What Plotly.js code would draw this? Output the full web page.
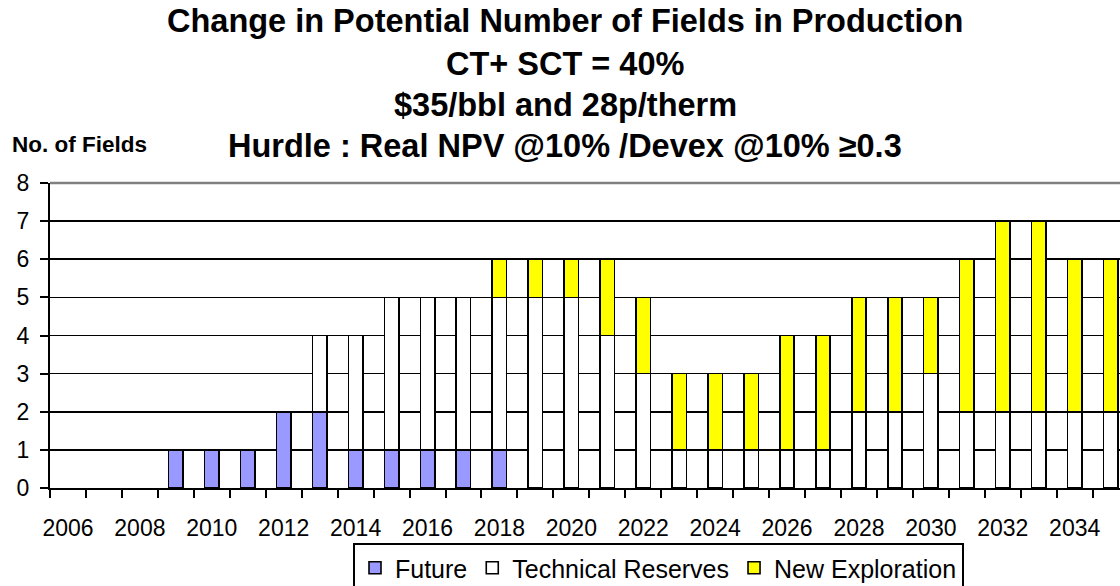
<!DOCTYPE html>
<html>
<head>
<meta charset="utf-8">
<script src="https://cdn.plot.ly/plotly-3.0.1.min.js"></script>
<style>
  html, body { margin: 0; padding: 0; background: #ffffff; }
  #chart { width: 1120px; height: 586px; }
</style>
</head>
<body>
<div id="chart"></div>
<script>
// ---- Data ----
const years = [2006, 2007, 2008, 2009, 2010, 2011, 2012, 2013, 2014, 2015,
               2016, 2017, 2018, 2019, 2020, 2021, 2022, 2023, 2024, 2025,
               2026, 2027, 2028, 2029, 2030, 2031, 2032, 2033, 2034, 2035];
const future = [0, 0, 0, 1, 1, 1, 2, 2, 1, 1,
                1, 1, 1, 0, 0, 0, 0, 0, 0, 0,
                0, 0, 0, 0, 0, 0, 0, 0, 0, 0];
const technicalReserves = [0, 0, 0, 0, 0, 0, 0, 2, 3, 4,
                           4, 4, 4, 5, 5, 4, 3, 1, 1, 1,
                           1, 1, 2, 2, 3, 2, 2, 2, 2, 2];
const newExploration = [0, 0, 0, 0, 0, 0, 0, 0, 0, 0,
                        0, 0, 1, 1, 1, 2, 2, 2, 2, 2,
                        3, 3, 3, 3, 2, 4, 5, 5, 4, 4];
const seriesNames = ['Future', 'Technical Reserves', 'New Exploration'];
const yTicks = [0, 1, 2, 3, 4, 5, 6, 7, 8];

const titleLines = [
  'Change in Potential Number of Fields in Production',
  'CT+ SCT = 40%',
  '$35/bbl and 28p/therm',
  'Hurdle : Real NPV @10% /Devex @10% \u22650.3'
];
const yAxisLabel = 'No. of Fields';

// ---- Build chart ----
const FONT = '"Liberation Sans", Arial, Helvetica, sans-serif';
const cats = years.map(String);
const tickText = years.map(y => (y % 2 === 0 ? String(y) : ''));
const nz = arr => arr.map(v => (v === 0 ? null : v));

const colors = ['#9999FF', '#FFFFFF', '#FFFF00'];
const seriesData = [future, technicalReserves, newExploration];

const traces = seriesData.map((vals, i) => ({
  type: 'bar',
  name: seriesNames[i],
  x: cats,
  y: nz(vals),
  marker: { color: colors[i], line: { color: '#000000', width: 1.6 } },
  hoverinfo: 'x+y+name'
}));

const plotTopPx = 183, plotBottomPx = 488, plotLeftPx = 50;
const plotH = plotBottomPx - plotTopPx, plotW = 1120 - plotLeftPx;
const py = px => (plotBottomPx - px) / plotH;
const pxX = px => (px - plotLeftPx) / plotW;

const titleY = [21, 63.7, 105, 146];
const annotations = titleLines.map((t, i) => ({
  text: '<b>' + t + '</b>',
  xref: 'paper', yref: 'paper',
  x: pxX(565), y: py(titleY[i]),
  xanchor: 'center', yanchor: 'middle',
  showarrow: false,
  font: { family: FONT, size: 32.5, color: '#000000' }
}));
annotations.push({
  text: '<b>' + yAxisLabel + '</b>',
  xref: 'paper', yref: 'paper',
  x: pxX(10), y: py(144),
  xanchor: 'left', yanchor: 'middle',
  showarrow: false,
  font: { family: FONT, size: 22.5, color: '#000000' }
});

const layout = {
  width: 1120, height: 586,
  margin: { l: plotLeftPx, r: 0, t: plotTopPx, b: 586 - plotBottomPx, pad: 0, autoexpand: false },
  paper_bgcolor: '#ffffff',
  plot_bgcolor: '#ffffff',
  barmode: 'stack',
  bargap: 0.6,
  showlegend: true,
  font: { family: FONT, color: '#000000' },
  xaxis: {
    type: 'category',
    range: [-0.5, 29.26],
    tickmode: 'array',
    tickvals: cats,
    ticktext: tickText,
    tickson: 'boundaries',
    ticks: 'outside',
    ticklen: 8,
    tickwidth: 2,
    tickcolor: '#000000',
    showgrid: false,
    showline: true,
    linecolor: '#000000',
    linewidth: 2,
    zeroline: false,
    tickangle: 0,
    ticklabelstandoff: 18,
    tickfont: { family: FONT, size: 23, color: '#000000' },
    automargin: false,
    fixedrange: true
  },
  yaxis: {
    range: [0, 8],
    tickmode: 'array',
    tickvals: yTicks,
    ticktext: yTicks.map(String),
    ticks: 'outside',
    ticklen: 8,
    tickwidth: 2,
    tickcolor: '#000000',
    showgrid: true,
    gridcolor: '#000000',
    gridwidth: 1.6,
    showline: true,
    linecolor: '#000000',
    linewidth: 2,
    zeroline: false,
    ticklabelstandoff: 6,
    tickfont: { family: FONT, size: 23, color: '#000000' },
    automargin: false,
    fixedrange: true
  },
  legend: {
    orientation: 'h',
    x: pxX(353), y: py(543),
    xanchor: 'left', yanchor: 'top',
    bordercolor: '#000000',
    borderwidth: 2,
    bgcolor: '#ffffff',
    traceorder: 'normal',
    font: { family: FONT, size: 25, color: '#000000' },
    itemwidth: 30
  },
  shapes: [{
    type: 'line', xref: 'paper', yref: 'paper',
    x0: 0, x1: 1, y0: 1, y1: 1,
    line: { color: '#808080', width: 2.5 },
    layer: 'above'
  }],
  annotations: annotations
};

Plotly.newPlot('chart', traces, layout, { displayModeBar: false, staticPlot: true });
</script>
</body>
</html>
